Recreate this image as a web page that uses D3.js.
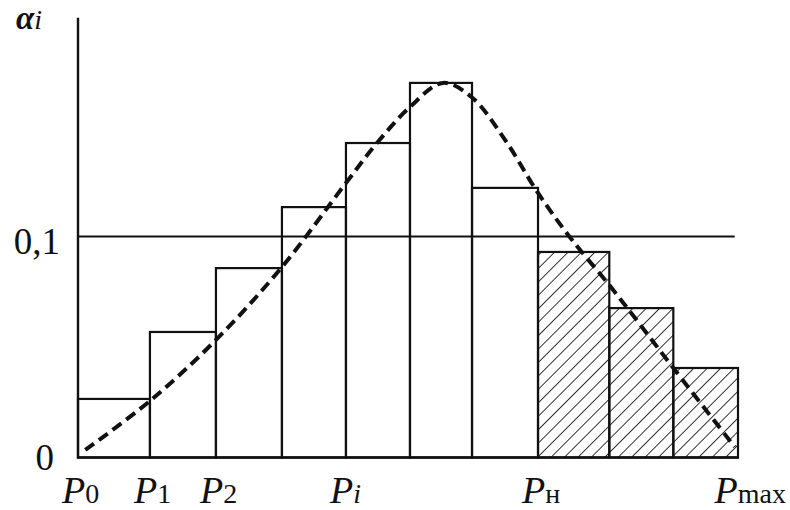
<!DOCTYPE html>
<html>
<head>
<meta charset="utf-8">
<script src="https://cdn.jsdelivr.net/npm/d3@7/dist/d3.min.js"></script>
<style>
  html, body { margin: 0; padding: 0; background: #fff; }
  svg { display: block; }
  text { font-family: "Liberation Serif", "Times New Roman", serif; fill: #111; }
</style>
</head>
<body>
<svg id="chart" width="790" height="510"></svg>
<script>
// Histogram of relative frequencies over pressure intervals P0 … Pmax
const binEdges = [0, 1.09, 2.09, 3.09, 4.06, 5.03, 5.97, 6.97, 8.05, 9.02, 10];
const frequencies = [0.0265, 0.0568, 0.0857, 0.1133, 0.1423, 0.1695, 0.122, 0.093, 0.0676, 0.0405];
const hatchedFrom = 7; // bins from Pн upward are hatched

// Smooth density curve drawn over the bars
const curveX = [0.11, 1.09, 2.09, 3.09, 4.06, 4.53, 5.03, 5.53, 5.97, 6.47, 6.97, 7.45, 8.05, 8.52, 9.02, 9.95];
const curveY = [0.0034, 0.0256, 0.0532, 0.0862, 0.1242, 0.1423, 0.1586, 0.1695, 0.1629, 0.1437, 0.1197, 0.0998, 0.078, 0.06, 0.0405, 0.0048];

// Axis labels
const yTicks = [0, 0.1];
const yTickLabels = ["0", "0,1"];
const xTickEdges = [0, 1, 2, 4, 7, 10];
const xTickSubs = ["0", "1", "2", "i", "н", "max"];
const xTickSubItalic = [false, false, false, true, false, false];
const yAxisTop = 0.199;
const refLevel = 0.1;
const refEnd = 9.95;

const svg = d3.select("#chart");
const W = 790;

const x = d3.scaleLinear().domain([0, 10]).range([78, 738]);
const y = d3.scaleLinear().domain([0, 0.1]).range([457.5, 236.5]);

// Diagonal hatch pattern
const defs = svg.append("defs");
defs.append("pattern")
  .attr("id", "hatch")
  .attr("patternUnits", "userSpaceOnUse")
  .attr("width", 9.5).attr("height", 9.5)
  .attr("patternTransform", "rotate(45)")
  .append("line")
  .attr("x1", 0).attr("y1", 0).attr("x2", 0).attr("y2", 9.5)
  .attr("stroke", "#111").attr("stroke-width", 1.7);

// Bars
const bins = frequencies.map((f, i) => ({ x0: binEdges[i], x1: binEdges[i + 1], f, i }));
svg.append("g").selectAll("rect").data(bins).join("rect")
  .attr("x", d => x(d.x0))
  .attr("y", d => y(d.f))
  .attr("width", d => x(d.x1) - x(d.x0))
  .attr("height", d => y(0) - y(d.f))
  .attr("fill", d => d.i >= hatchedFrom ? "url(#hatch)" : "none")
  .attr("stroke", "#111")
  .attr("stroke-width", 2.2);

// Reference line at 0,1
svg.append("line")
  .attr("x1", x(0)).attr("x2", x(refEnd))
  .attr("y1", y(refLevel)).attr("y2", y(refLevel))
  .attr("stroke", "#111").attr("stroke-width", 2.2);

// Axes
svg.append("line")
  .attr("x1", x(0)).attr("x2", x(0))
  .attr("y1", y(0) + 1).attr("y2", y(yAxisTop))
  .attr("stroke", "#111").attr("stroke-width", 2.4);
svg.append("line")
  .attr("x1", x(0) - 1).attr("x2", x(10) + 1)
  .attr("y1", y(0)).attr("y2", y(0))
  .attr("stroke", "#111").attr("stroke-width", 2.4);

// Dashed curve
const pts = curveX.map((v, i) => [v, curveY[i]]);
svg.append("path")
  .datum(pts)
  .attr("d", d3.line().x(d => x(d[0])).y(d => y(d[1])).curve(d3.curveCatmullRom))
  .attr("fill", "none")
  .attr("stroke", "#111")
  .attr("stroke-width", 4)
  .attr("stroke-dasharray", "11,6");

// Y tick labels
svg.append("g").selectAll("text").data(yTicks).join("text")
  .attr("x", (d, i) => x(0) - (i === 0 ? 24 : 18))
  .attr("y", (d, i) => y(d) + (i === 0 ? 12 : 17))
  .attr("text-anchor", "end")
  .attr("font-size", 37)
  .text((d, i) => yTickLabels[i]);

// Y axis title αi
const yt = svg.append("text").attr("x", 16).attr("y", 29).attr("font-style", "italic");
yt.append("tspan").attr("font-size", 33).attr("font-weight", "bold").text("α");
yt.append("tspan").attr("font-size", 28).text("i");

// X tick labels: italic P with subscript
svg.append("g").selectAll("text").data(xTickEdges).join("text")
  .attr("y", 503)
  .each(function (e, i) {
    const t = d3.select(this);
    t.append("tspan").attr("font-style", "italic").attr("font-size", 38).text("P");
    t.append("tspan")
      .attr("font-size", 28)
      .attr("font-style", xTickSubItalic[i] ? "italic" : "normal")
      .text(xTickSubs[i]);
    const len = this.getComputedTextLength();
    const left = Math.min(x(binEdges[e]) - 16, W - 4 - len);
    t.attr("x", left);
  });
</script>
</body>
</html>
